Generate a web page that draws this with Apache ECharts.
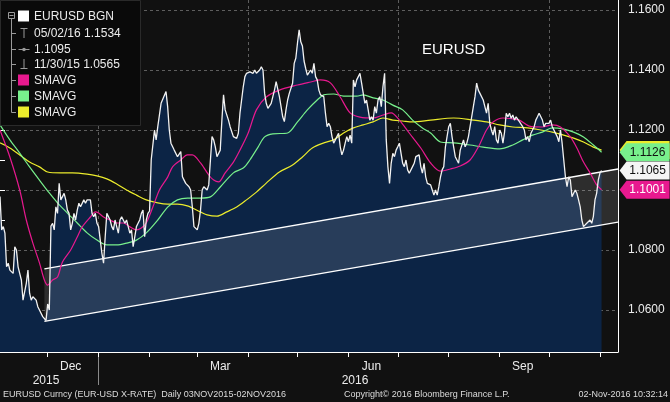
<!DOCTYPE html>
<html><head><meta charset="utf-8">
<script src="https://cdn.jsdelivr.net/npm/echarts@6.0.0/dist/echarts.min.js"></script>
<style>html,body{margin:0;padding:0;background:#111111;}#c{width:670px;height:402px;}</style>
</head><body><div id="c"></div>
<script>
// ---------- data ----------
// calendar axis: 2015-11-02 .. 2016-11-12 (day offsets index into it)
const START_UTC = Date.UTC(2015, 10, 2);
const N_DAYS = 377;
const monthLabels = {'2015-12-15':'Dec','2016-03-15':'Mar','2016-06-15':'Jun','2016-09-15':'Sep'};
const yearLabels = {'2015-11-30':'2015','2016-06-05':'2016'};
const quarterLines = ['2016-01-01','2016-04-01','2016-07-01','2016-10-01'];
const yearSeparator = '2016-01-01';
const yTickLabels = [1.06, 1.08, 1.12, 1.14, 1.16];

// EURUSD daily close, day = days after 2015-11-02
const priceDay = [0,1,2,3,4,5,6,8,9,10,11,13,14,16,17,18,19,20,22,23,24,26,28,29,30,31,32,33,34,35,36,37,38,39,40,41,42,43,44,45,46,47,48,49,51,52,53,54,55,56,57,58,59,60,61,62,63,64,65,67,68,69,70,71,72,73,74,75,76,77,78,79,80,81,82,83,84,85,86,87,88,89,90,91,92,94,95,96,98,99,101,102,103,104,106,108,110,111,112,113,115,116,117,118,120,121,122,123,124,126,127,128,129,130,131,132,133,134,135,136,137,139,140,142,144,145,146,148,149,150,152,154,155,156,158,159,160,161,162,163,165,166,167,168,170,171,172,173,174,175,176,178,179,180,181,182,183,184,185,186,187,188,189,190,191,192,193,194,195,196,197,198,199,200,201,202,203,204,206,207,208,209,210,211,212,213,214,215,216,217,218,219,220,221,222,223,224,225,226,227,228,229,230,231,232,233,234,235,236,237,238,239,240,241,242,243,244,245,246,247,248,249,250,251,252,253,255,256,257,258,259,260,262,263,264,265,266,267,268,269,270,271,272,273,274,275,276,277,278,279,280,282,283,284,285,286,288,289,290,291,292,294,295,296,297,298,299,300,301,302,303,304,305,306,307,308,309,310,311,312,313,314,315,316,317,318,319,320,321,322,323,324,325,326,327,328,330,331,332,333,334,335,336,337,338,339,340,341,342,343,344,345,346,347,348,349,350,351,352,353,354,355,356,357,358,359,360,361,362,363,364,365,366];
const priceVal = [1.0978,1.0867,1.0878,1.0856,1.0744,1.0756,1.0733,1.0722,1.0811,1.0800,1.0744,1.0700,1.0633,1.0689,1.0733,1.0656,1.0633,1.0644,1.0633,1.0611,1.0600,1.0578,1.0565,1.0620,1.0600,1.0880,1.0889,1.0867,1.0944,1.0922,1.1022,1.0967,1.0978,1.0989,1.0967,1.0933,1.0922,1.0867,1.0889,1.0922,1.0900,1.0933,1.0956,1.0944,1.0967,1.0956,1.0967,1.0961,1.0967,1.0922,1.0911,1.0922,1.0889,1.0878,1.0833,1.0789,1.0756,1.0844,1.0922,1.0900,1.0878,1.0867,1.0900,1.0878,1.0856,1.0900,1.0911,1.0900,1.0889,1.0900,1.0878,1.0856,1.0867,1.0811,1.0844,1.0878,1.0889,1.0900,1.0922,1.0933,1.0844,1.0900,1.0922,1.0930,1.1100,1.1200,1.1167,1.1211,1.1289,1.1294,1.1328,1.1278,1.1200,1.1156,1.1133,1.1111,1.1128,1.1044,1.1033,1.1022,1.1011,1.1000,1.0944,1.0878,1.0867,1.0889,1.0933,1.1000,1.1011,1.1000,1.1017,1.1011,1.1178,1.1167,1.1144,1.1111,1.1106,1.1133,1.1233,1.1317,1.1267,1.1233,1.1211,1.1178,1.1172,1.1189,1.1256,1.1344,1.1378,1.1389,1.1394,1.1389,1.1400,1.1389,1.1400,1.1411,1.1400,1.1322,1.1289,1.1272,1.1289,1.1311,1.1333,1.1361,1.1311,1.1278,1.1244,1.1228,1.1267,1.1300,1.1322,1.1356,1.1422,1.1440,1.1490,1.1534,1.1494,1.1480,1.1430,1.1405,1.1383,1.1389,1.1400,1.1389,1.1422,1.1378,1.1367,1.1333,1.1317,1.1322,1.1311,1.1256,1.1211,1.1222,1.1211,1.1178,1.1156,1.1167,1.1189,1.1144,1.1117,1.1133,1.1156,1.1178,1.1161,1.1183,1.1156,1.1367,1.1344,1.1367,1.1378,1.1389,1.1356,1.1322,1.1289,1.1300,1.1267,1.1233,1.1244,1.1233,1.1278,1.1256,1.1300,1.1311,1.1278,1.1344,1.1389,1.1167,1.1078,1.1022,1.1089,1.1122,1.1111,1.1133,1.1144,1.1156,1.1122,1.1089,1.1078,1.1100,1.1067,1.1056,1.1061,1.1078,1.1089,1.1111,1.1117,1.1078,1.1056,1.1089,1.1044,1.1022,1.1017,1.1000,1.0983,1.1000,1.0983,1.1011,1.1044,1.1067,1.1078,1.1144,1.1178,1.1211,1.1222,1.1178,1.1144,1.1111,1.1100,1.1089,1.1133,1.1167,1.1144,1.1156,1.1178,1.1211,1.1278,1.1311,1.1356,1.1333,1.1322,1.1300,1.1278,1.1256,1.1289,1.1222,1.1200,1.1183,1.1211,1.1167,1.1156,1.1200,1.1189,1.1156,1.1194,1.1256,1.1244,1.1256,1.1239,1.1250,1.1233,1.1244,1.1239,1.1228,1.1233,1.1211,1.1200,1.1167,1.1178,1.1161,1.1189,1.1200,1.1211,1.1233,1.1244,1.1256,1.1233,1.1211,1.1222,1.1228,1.1222,1.1233,1.1211,1.1200,1.1206,1.1178,1.1161,1.1200,1.1156,1.1100,1.1044,1.1011,1.1044,1.1033,1.0978,1.0989,1.1000,1.0989,1.0967,1.0944,1.0900,1.0878,1.0883,1.0889,1.0894,1.0900,1.0889,1.0911,1.0967,1.0989,1.1033,1.1056,1.1065];

// simple moving averages
const smaMagDay = [0,6,12,16,20,24,27,29,32,35,38,43,47,50,55,58,60,63,67,71,75,79,83,86,89,93,97,102,105,110,114,117,122,127,130,133,137,142,146,151,156,162,170,181,189,195,201,207,213,219,227,233,238,243,249,256,262,268,274,280,286,291,296,300,306,312,316,322,330,336,341,347,351,355,359,363,366];
const smaMagVal = [1.1200,1.1110,1.1000,1.0900,1.0823,1.0757,1.0700,1.0683,1.0700,1.0710,1.0760,1.0800,1.0843,1.0877,1.0910,1.0927,1.0923,1.0910,1.0900,1.0890,1.0890,1.0877,1.0867,1.0873,1.0890,1.0943,1.1000,1.1043,1.1077,1.1100,1.1117,1.1117,1.1090,1.1050,1.1033,1.1027,1.1057,1.1093,1.1133,1.1190,1.1267,1.1310,1.1333,1.1350,1.1360,1.1367,1.1357,1.1310,1.1257,1.1243,1.1240,1.1250,1.1257,1.1233,1.1190,1.1140,1.1090,1.1063,1.1070,1.1080,1.1100,1.1143,1.1200,1.1227,1.1240,1.1237,1.1233,1.1213,1.1210,1.1217,1.1210,1.1177,1.1140,1.1093,1.1057,1.1017,1.1001];
const smaGrnDay = [0,6,12,18,24,30,35,41,47,53,59,65,71,77,83,89,96,102,108,114,122,128,134,142,148,152,157,161,166,175,181,187,193,197,203,209,217,221,227,233,239,245,251,257,262,268,276,286,294,304,312,318,324,330,336,343,349,355,361,366];
const smaGrnVal = [1.1217,1.1167,1.1123,1.1077,1.1033,1.0990,1.0957,1.0923,1.0890,1.0857,1.0833,1.0817,1.0817,1.0823,1.0833,1.0857,1.0900,1.0943,1.0967,1.0973,1.0973,1.0977,1.1010,1.1057,1.1073,1.1100,1.1143,1.1177,1.1187,1.1190,1.1227,1.1267,1.1300,1.1317,1.1320,1.1313,1.1313,1.1317,1.1307,1.1300,1.1283,1.1267,1.1233,1.1207,1.1190,1.1160,1.1157,1.1150,1.1143,1.1137,1.1150,1.1167,1.1183,1.1193,1.1207,1.1203,1.1193,1.1177,1.1150,1.1126];
const smaYelDay = [0,6,12,18,24,29,37,44,53,59,65,71,77,83,89,96,102,108,114,122,126,132,138,144,150,156,162,170,178,184,190,197,203,209,215,221,227,233,239,245,251,262,276,288,296,304,312,321,329,336,343,349,355,361,366];
const smaYelVal = [1.1157,1.1140,1.1117,1.1093,1.1077,1.1060,1.1057,1.1057,1.1053,1.1047,1.1037,1.1020,1.1000,1.0983,1.0967,1.0957,1.0953,1.0953,1.0947,1.0927,1.0917,1.0913,1.0927,1.0943,1.0967,1.0993,1.1023,1.1060,1.1083,1.1110,1.1140,1.1157,1.1167,1.1190,1.1207,1.1217,1.1227,1.1240,1.1233,1.1230,1.1227,1.1233,1.1240,1.1233,1.1227,1.1217,1.1210,1.1207,1.1200,1.1193,1.1183,1.1173,1.1160,1.1143,1.1133];

// trend channel
const bandDay = [27, 376];
const bandLow = [1.0562, 1.0893];
const bandHigh = [1.0737, 1.1070];

const legendTexts = ['EURUSD BGN', '05/02/16 1.1534', '1.1095', '11/30/15 1.0565', 'SMAVG', 'SMAVG', 'SMAVG'];
const footerTexts = ['EURUSD Curncy (EUR-USD X-RATE)  Daily 03NOV2015-02NOV2016', 'Copyright\u00A9 2016 Bloomberg Finance L.P.', '02-Nov-2016 10:32:14'];

// ---------- styling ----------
const FONT = "'Liberation Sans', Arial, sans-serif";
const BG = '#111111';
const NAVY = '#0c2445';
const MAG = '#e8198f', GRN = '#78f08c', YEL = '#ecec2c', WHITE = '#f2f2f2';
const GRIDC = '#5e5e5e';
const TXT = '#ececec';

const cats = [];
for (let i = 0; i < N_DAYS; i++) cats.push(new Date(START_UTC + i * 864e5).toISOString().slice(0, 10));
const pairs = (days, vals) => days.map((d, i) => [cats[d], vals[i]]);
const last = a => a[a.length - 1];

function endTag(days, vals, fill, textColor, showText) {
  return {
    silent: true, animation: false,
    symbol: 'path://M0,9L7,0L50,0L50,18L7,18Z', symbolKeepAspect: false, symbolSize: [50, 18],
    data: [{
      coord: [cats[last(days)], last(vals)], value: last(vals).toFixed(4), symbolOffset: [43, 0],
      itemStyle: {color: fill},
      label: {show: showText, position: 'inside', offset: [3, 0], color: textColor, fontSize: 12, fontFamily: FONT, formatter: '{c}'}
    }]
  };
}

const lineBase = {type: 'line', symbol: 'none', showSymbol: false, animation: false, xAxisIndex: 0, yAxisIndex: 0, silent: true};

const series = [
  Object.assign({}, lineBase, {name: 'area', data: pairs(priceDay, priceVal), lineStyle: {opacity: 0}, areaStyle: {color: NAVY, opacity: 1}, z: 1}),
  Object.assign({}, lineBase, {name: 'bandLow', stack: 'band', data: pairs(bandDay, bandLow), lineStyle: {color: '#ffffff', width: 1.3}, z: 2}),
  Object.assign({}, lineBase, {name: 'bandSpan', stack: 'band', data: pairs(bandDay, bandHigh.map((h, i) => h - bandLow[i])), lineStyle: {color: '#ffffff', width: 1.3}, areaStyle: {color: 'rgba(255,255,255,0.17)'}, z: 2}),
  Object.assign({}, lineBase, {name: 'yel', data: pairs(smaYelDay, smaYelVal), smooth: 0.3, lineStyle: {color: YEL, width: 1.2}, z: 3, markPoint: endTag(smaYelDay, smaYelVal, YEL, '#111', false)}),
  Object.assign({}, lineBase, {name: 'grn', data: pairs(smaGrnDay, smaGrnVal), smooth: 0.3, lineStyle: {color: GRN, width: 1.2}, z: 3, markPoint: endTag(smaGrnDay, smaGrnVal, GRN, '#111', true)}),
  Object.assign({}, lineBase, {name: 'mag', data: pairs(smaMagDay, smaMagVal), smooth: 0.3, lineStyle: {color: MAG, width: 1.2}, z: 3, markPoint: endTag(smaMagDay, smaMagVal, MAG, '#ffffff', true)}),
  Object.assign({}, lineBase, {name: 'price', data: pairs(priceDay, priceVal), lineStyle: {color: WHITE, width: 1.3}, z: 4, markPoint: endTag(priceDay, priceVal, '#f5f5f5', '#111', true)})
];

// ---------- legend / text graphics ----------
const G = [];
const rowY = [16, 33, 49, 64, 80, 96, 112];
const sqColors = {0: '#ffffff', 4: MAG, 5: GRN, 6: YEL};
G.push({type: 'rect', shape: {x: 0.5, y: 0.5, width: 140, height: 125}, style: {fill: '#0a0a0a', stroke: '#2a2a2a', lineWidth: 1}, z: 100});
G.push({type: 'line', shape: {x1: 11.5, y1: 19, x2: 11.5, y2: 112.5}, style: {stroke: '#9a9a9a', lineWidth: 1}, z: 101});
G.push({type: 'rect', shape: {x: 8.5, y: 12.5, width: 6, height: 6}, style: {fill: '#0a0a0a', stroke: '#9a9a9a', lineWidth: 1}, z: 102});
G.push({type: 'line', shape: {x1: 9.5, y1: 15.5, x2: 13.5, y2: 15.5}, style: {stroke: '#9a9a9a', lineWidth: 1}, z: 102});
rowY.forEach((y, i) => {
  if (i > 0) G.push({type: 'line', shape: {x1: 11.5, y1: y + 0.5, x2: 16, y2: y + 0.5}, style: {stroke: '#9a9a9a', lineWidth: 1}, z: 101});
  if (sqColors[i]) G.push({type: 'rect', shape: {x: 18, y: y - 5.5, width: 11, height: 11}, style: {fill: sqColors[i]}, z: 101});
  G.push({type: 'text', x: 34, y: y + 0.5, style: {text: legendTexts[i], fill: TXT, font: '12px ' + FONT, verticalAlign: 'middle'}, z: 101});
});
// hi / avg / lo glyphs
G.push({type: 'line', shape: {x1: 20.5, y1: 28.5, x2: 27.5, y2: 28.5}, style: {stroke: '#9a9a9a'}, z: 101});
G.push({type: 'line', shape: {x1: 24, y1: 28.5, x2: 24, y2: 38}, style: {stroke: '#9a9a9a'}, z: 101});
G.push({type: 'line', shape: {x1: 18.5, y1: 49.5, x2: 29.5, y2: 49.5}, style: {stroke: '#9a9a9a'}, z: 101});
G.push({type: 'circle', shape: {cx: 24, cy: 49.5, r: 1.8}, style: {fill: '#9a9a9a'}, z: 101});
G.push({type: 'line', shape: {x1: 24, y1: 59, x2: 24, y2: 68.5}, style: {stroke: '#9a9a9a'}, z: 101});
G.push({type: 'line', shape: {x1: 20.5, y1: 68.5, x2: 27.5, y2: 68.5}, style: {stroke: '#9a9a9a'}, z: 101});
// title inside plot
G.push({type: 'text', x: 422, y: 50, style: {text: 'EURUSD', fill: '#ffffff', font: '15px ' + FONT, verticalAlign: 'middle'}, z: 101});
// footer
G.push({type: 'text', x: 3, y: 395, style: {text: footerTexts[0], fill: '#dcdcdc', font: '9px ' + FONT, verticalAlign: 'middle'}, z: 101});
G.push({type: 'text', x: 344, y: 395, style: {text: footerTexts[1], fill: '#dcdcdc', font: '9px ' + FONT, verticalAlign: 'middle'}, z: 101});
G.push({type: 'text', x: 668, y: 395, style: {text: footerTexts[2], fill: '#dcdcdc', font: '9px ' + FONT, verticalAlign: 'middle', align: 'right'}, z: 101});

const dashed = {color: GRIDC, width: 1, type: [3, 3]};

const option = {
  backgroundColor: BG,
  animation: false,
  textStyle: {fontFamily: FONT},
  grid: [
    {left: 0, right: 52, top: 0, bottom: 50, containLabel: false, outerBoundsMode: 'none'},
    {left: 0, right: 52, top: -20, bottom: 62, containLabel: false, outerBoundsMode: 'none'},
    {left: 0, right: 52, top: -20, bottom: 92, containLabel: false, outerBoundsMode: 'none'}
  ],
  xAxis: [
    {
      gridIndex: 0, type: 'category', data: cats, boundaryGap: false,
      axisLine: {show: true, lineStyle: {color: '#ffffff', width: 1}},
      axisTick: {show: true, length: 5, interval: (i, v) => v.slice(8) === '01', lineStyle: {color: '#ffffff'}},
      axisLabel: {show: true, interval: (i, v) => !!monthLabels[v], formatter: v => monthLabels[v] || '', color: TXT, fontSize: 12, fontFamily: FONT, margin: 9},
      splitLine: {show: true, interval: (i, v) => quarterLines.indexOf(v) >= 0, lineStyle: dashed}
    },
    {
      gridIndex: 0, type: 'category', data: cats, boundaryGap: false, position: 'bottom', offset: 5,
      axisLine: {show: false},
      axisTick: {show: true, length: 28, interval: (i, v) => v === yearSeparator, lineStyle: {color: '#8a8a8a'}},
      axisLabel: {show: true, interval: (i, v) => !!yearLabels[v], formatter: v => yearLabels[v] || '', color: TXT, fontSize: 12, fontFamily: FONT, margin: 18},
      splitLine: {show: false}
    },
    {gridIndex: 1, type: 'value', show: false, min: 0, max: 1},
    {gridIndex: 2, type: 'value', show: false, min: 0, max: 1}
  ],
  yAxis: [
    {
      gridIndex: 0, type: 'value', position: 'right', min: 1.046, max: 1.16333, scale: true,
      axisLine: {show: true, lineStyle: {color: '#ffffff', width: 1}},
      axisTick: {show: false}, axisLabel: {show: false}, splitLine: {show: false}
    },
    {
      gridIndex: 1, type: 'value', position: 'right', min: 1.05, max: 1.17, interval: 0.01,
      axisLine: {show: false},
      axisTick: {show: true, inside: false, length: 5, lineStyle: {color: '#ffffff'}},
      axisLabel: {show: true, margin: 10, color: TXT, fontSize: 12, fontFamily: FONT,
        formatter: v => yTickLabels.some(t => Math.abs(t - v) < 1e-6) ? v.toFixed(4) : ''},
      splitLine: {show: false}
    },
    {
      gridIndex: 2, type: 'value', position: 'right', min: 1.06, max: 1.17, interval: 0.02,
      axisLine: {show: false}, axisTick: {show: false}, axisLabel: {show: false},
      splitLine: {show: true, lineStyle: dashed}
    }
  ],
  series: series,
  graphic: G
};

const chart = echarts.init(document.getElementById('c'), null, {renderer: 'canvas'});
chart.setOption(option);
</script>
</body></html>
